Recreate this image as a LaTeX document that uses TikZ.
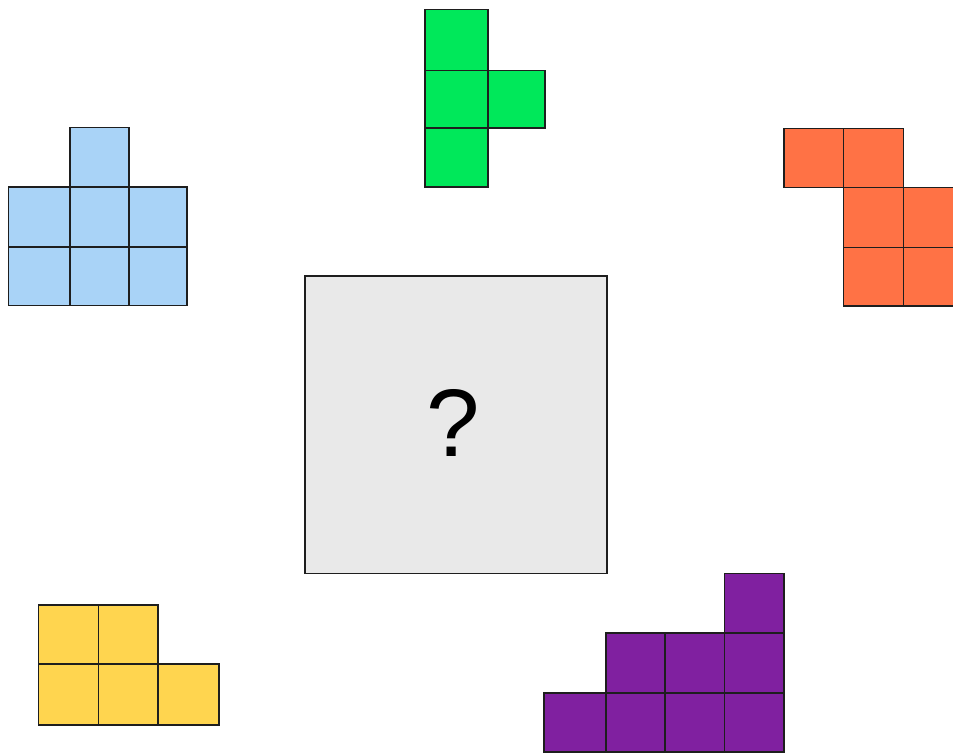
\documentclass[tikz,border=0pt]{standalone}
\usepackage{fontspec}
\setmainfont{Liberation Sans}
\definecolor{cblue}{HTML}{A9D3F7}
\definecolor{cgreen}{HTML}{00E85A}
\definecolor{corange}{HTML}{FF7245}
\definecolor{cyellow}{HTML}{FFD54F}
\definecolor{cpurple}{HTML}{8020A0}
\definecolor{cgray}{HTML}{E9E9E9}
\definecolor{cline}{HTML}{1E1E1E}
\newcommand\tile[5]{\filldraw[tilestyle,fill=#5] (#1,#2) rectangle (#3,#4);}
\tikzset{tilestyle/.style={draw=cline,line width=1.6pt}}
\begin{document}
\begin{tikzpicture}[x=1pt,y=-1pt]
\useasboundingbox (0,0) rectangle (953,753);
\clip (0,0) rectangle (953,753);
% blue
\tile{70}{127.3}{128.7}{186.7}{cblue}
\tile{8.3}{186.7}{70}{246.7}{cblue}
\tile{70}{186.7}{128.7}{246.7}{cblue}
\tile{128.7}{186.7}{187}{246.7}{cblue}
\tile{8.3}{246.7}{70}{305.5}{cblue}
\tile{70}{246.7}{128.7}{305.5}{cblue}
\tile{128.7}{246.7}{187}{305.5}{cblue}
% green
\tile{425}{9.3}{487.7}{70.3}{cgreen}
\tile{425}{70.3}{487.7}{127.7}{cgreen}
\tile{487.7}{70.3}{544.7}{127.7}{cgreen}
\tile{425}{127.7}{487.7}{186.7}{cgreen}
% orange
\tile{784}{128.3}{843.3}{187.3}{corange}
\tile{843.3}{128.3}{903.3}{187.3}{corange}
\tile{843.3}{187.3}{903.3}{247.3}{corange}
\tile{903.3}{187.3}{963}{247.3}{corange}
\tile{843.3}{247.3}{903.3}{305.7}{corange}
\tile{903.3}{247.3}{963}{305.7}{corange}
% yellow
\tile{38.3}{605}{98.3}{664}{cyellow}
\tile{98.3}{605}{157.7}{664}{cyellow}
\tile{38.3}{664}{98.3}{725}{cyellow}
\tile{98.3}{664}{157.7}{725}{cyellow}
\tile{157.7}{664}{219}{725}{cyellow}
% purple
\tile{724.3}{573.3}{784}{632.7}{cpurple}
\tile{606}{632.7}{665}{692.7}{cpurple}
\tile{665}{632.7}{724.3}{692.7}{cpurple}
\tile{724.3}{632.7}{784}{692.7}{cpurple}
\tile{544}{692.7}{606}{752}{cpurple}
\tile{606}{692.7}{665}{752}{cpurple}
\tile{665}{692.7}{724.3}{752}{cpurple}
\tile{724.3}{692.7}{784}{752}{cpurple}
% centre box
\node[draw=cline,line width=1.6pt,fill=cgray,minimum width=301.7pt,minimum height=297.3pt,inner sep=0pt] (box) at (455.85,424.65) {};
\node[font=\fontsize{96}{110}\selectfont,inner sep=0pt] (q) at (453,423) {?};
\end{tikzpicture}
\end{document}
